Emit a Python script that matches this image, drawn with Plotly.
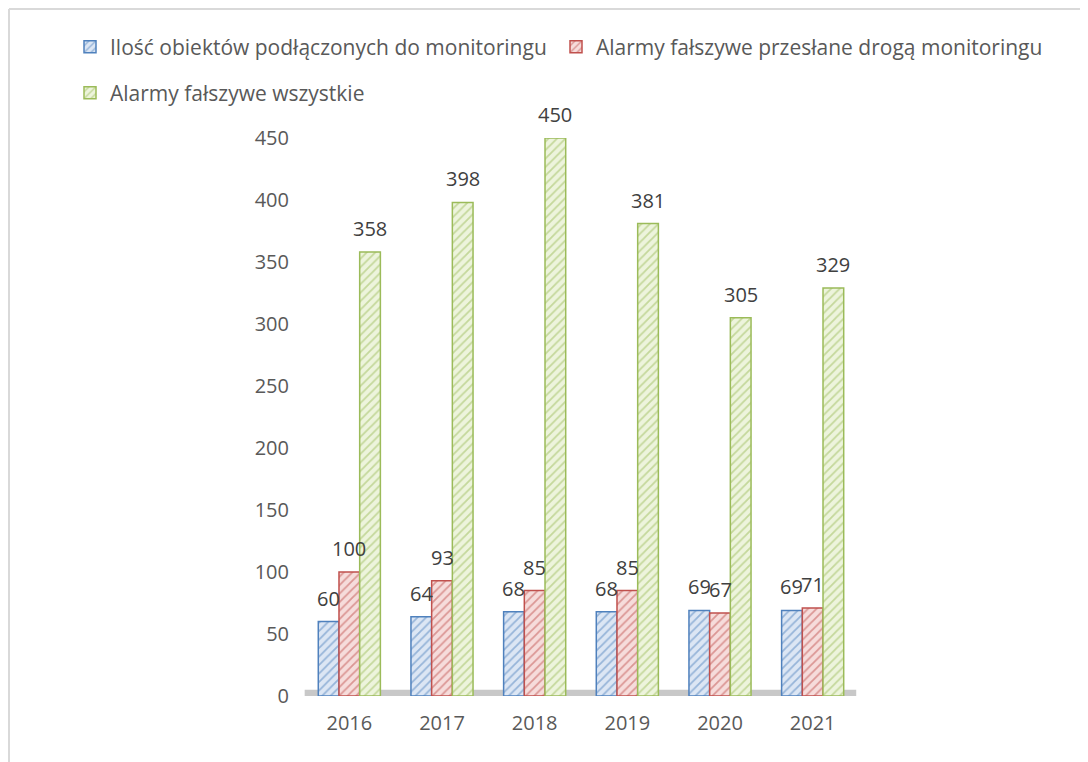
import plotly.graph_objects as go

years = ["2016", "2017", "2018", "2019", "2020", "2021"]
monitored = [60, 64, 68, 68, 69, 69]
false_via_monitoring = [100, 93, 85, 85, 67, 71]
false_all = [358, 398, 450, 381, 305, 329]

series_names = [
    "Ilość obiektów podłączonych do monitoringu",
    "Alarmy fałszywe przesłane drogą monitoringu",
    "Alarmy fałszywe wszystkie",
]
series_values = [monitored, false_via_monitoring, false_all]
y_ticks = [0, 50, 100, 150, 200, 250, 300, 350, 400, 450]

# outline / hatch colour, light fill
STYLES = [
    ("#4f81bd", "#dce6f4"),
    ("#c0504d", "#f6dcdb"),
    ("#9bbb59", "#edf4dc"),
]

FONT = "Open Sans"
# the page body has an 8px margin, so the figure is a bit smaller than the window
W, H = 1080, 754
L, R, T, B = 295, 229, 130, 66
PW, PH = W - L - R, H - T - B


def px_x(x):
    return (x - L) / PW


def px_y(y):
    return (H - B - y) / PH


fig = go.Figure()

legends = ["legend", "legend2", "legend3"]
for name, values, (dark, light), leg in zip(series_names, series_values, STYLES, legends):
    fig.add_trace(
        go.Bar(
            x=years,
            y=values,
            name=name,
            legend=leg,
            marker=dict(
                color=light,
                line=dict(color=dark, width=1.5),
                pattern=dict(
                    shape="/",
                    fillmode="overlay",
                    fgcolor=dark,
                    size=6,
                    solidity=0.3,
                ),
            ),
            hovertemplate="%{x}: %{y}<extra></extra>",
        )
    )

# value labels above each bar (category index + pixel shift inside the group)
bar_px = PW / len(years) * 0.67 / 3
for i, values in enumerate(series_values):
    for j, value in enumerate(values):
        fig.add_annotation(
            x=j,
            y=value,
            text=str(value),
            showarrow=False,
            xshift=(i - 1) * bar_px,
            yanchor="bottom",
            yshift=8,
            font=dict(family=FONT, size=20, color="#404040"),
        )

# floor of the 3-D chart
fig.add_shape(
    type="rect",
    xref="x domain",
    yref="y",
    x0=0.003,
    x1=0.995,
    y0=0,
    y1=5,
    fillcolor="#c8c8c8",
    line=dict(width=0),
    layer="below",
)

# chart border (top and left edges visible)
border = dict(color="#d9d9d9", width=2)
fig.add_shape(type="line", xref="paper", yref="paper",
              x0=px_x(1), x1=px_x(W + 5), y0=px_y(1), y1=px_y(1), line=border)
fig.add_shape(type="line", xref="paper", yref="paper",
              x0=px_x(1), x1=px_x(1), y0=px_y(1), y1=px_y(H + 5), line=border)

legend_font = dict(family=FONT, size=21, color="#595959")
legend_pos = {"legend": (62, 39), "legend2": (548, 39), "legend3": (62, 85)}
legend_layout = {
    key: dict(
        orientation="h",
        x=px_x(lx),
        y=px_y(ly),
        xanchor="left",
        yanchor="middle",
        font=legend_font,
        itemclick=False,
        itemdoubleclick=False,
    )
    for key, (lx, ly) in legend_pos.items()
}

fig.update_layout(
    width=W,
    height=H,
    margin=dict(l=L, r=R, t=T, b=B, autoexpand=False),
    paper_bgcolor="white",
    plot_bgcolor="white",
    barmode="group",
    bargap=0.33,
    bargroupgap=0,
    font=dict(family=FONT, size=20, color="#595959"),
    xaxis=dict(
        type="category",
        range=[-0.5, len(years) - 0.5],
        showgrid=False,
        showline=False,
        zeroline=False,
        ticks="",
        ticklabelstandoff=13,
        tickfont=dict(family=FONT, size=20, color="#595959"),
    ),
    yaxis=dict(
        range=[0, 450],
        tickvals=y_ticks,
        showgrid=False,
        showline=False,
        zeroline=False,
        ticks="",
        ticklabelstandoff=13,
        tickfont=dict(family=FONT, size=20, color="#595959"),
    ),
    showlegend=True,
    **legend_layout,
)

fig.write_html("out.html")
